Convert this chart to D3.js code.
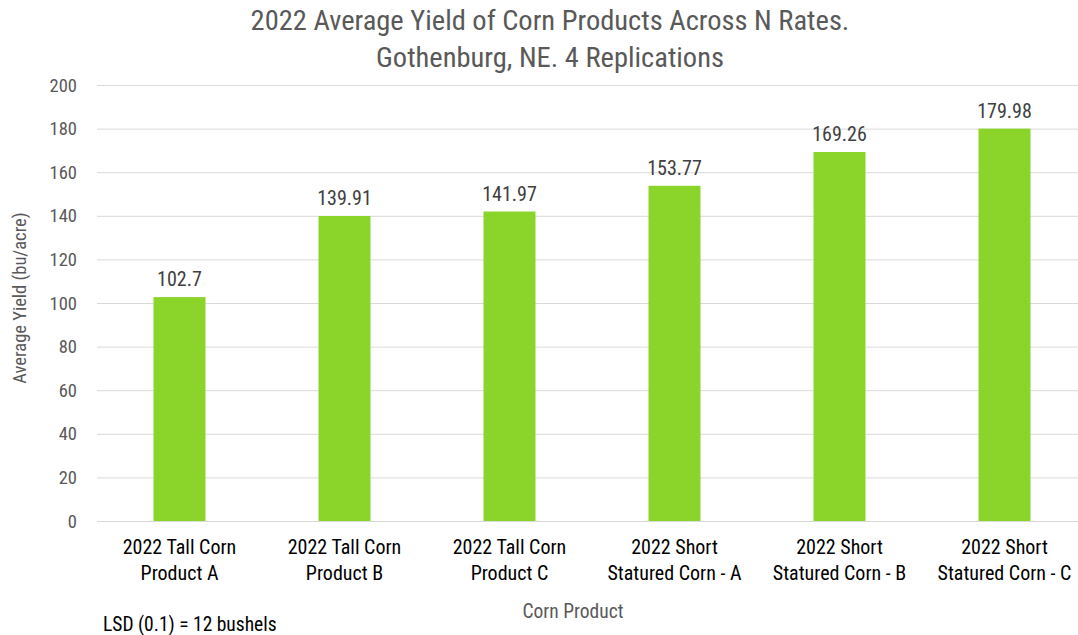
<!DOCTYPE html>
<html><head><meta charset="utf-8">
<script src="https://cdn.jsdelivr.net/npm/d3@7"></script>
<style>body{margin:0;background:#fff;} svg{display:block;}</style>
</head><body><svg id="c" width="1078" height="635"></svg>
<script>
const categories = [
  ["2022 Tall Corn","Product A"],
  ["2022 Tall Corn","Product B"],
  ["2022 Tall Corn","Product C"],
  ["2022 Short","Statured Corn - A"],
  ["2022 Short","Statured Corn - B"],
  ["2022 Short","Statured Corn - C"]
];
const yields = [102.7, 139.91, 141.97, 153.77, 169.26, 179.98];
const valueLabels = ["102.7","139.91","141.97","153.77","169.26","179.98"];
const yTicks = [0,20,40,60,80,100,120,140,160,180,200];
const titleLines = ["2022 Average Yield of Corn Products Across N Rates.","Gothenburg, NE. 4 Replications"];

(function(){
const FONT = "'Liberation Sans Narrow','Roboto Condensed',Roboto,sans-serif";
const svg = d3.select("#c");
const pLeft = 97, pRight = 1087, pTop = 85, pBottom = 521;
const keys = categories.map((d,i)=>i);
const x = d3.scaleBand().domain(keys).range([pLeft,pRight]).paddingInner(0.685).paddingOuter(0.3425);
const y = d3.scaleLinear().domain([0,200]).range([pBottom,pTop]);

svg.append("g").selectAll("line").data(yTicks).join("line")
  .attr("x1",pLeft).attr("x2",pRight)
  .attr("y1",d=>y(d)+0.5).attr("y2",d=>y(d)+0.5)
  .attr("stroke","#d9d9d9").attr("stroke-width",1);

svg.append("g").selectAll("text").data(yTicks).join("text")
  .attr("x",77).attr("y",d=>y(d)).attr("dy","0.36em")
  .attr("text-anchor","end").attr("font-family",FONT).attr("font-size",18.5)
  .attr("fill","#595959").text(d=>d);

svg.append("g").selectAll("rect").data(yields).join("rect")
  .attr("x",(d,i)=>x(i)).attr("width",x.bandwidth())
  .attr("y",d=>y(d)).attr("height",d=>y(0)-y(d))
  .attr("fill","#8bd42a");

svg.append("g").selectAll("text").data(yields).join("text")
  .attr("x",(d,i)=>x(i)+x.bandwidth()/2).attr("y",d=>y(d)-11)
  .attr("text-anchor","middle").attr("font-family",FONT).attr("font-size",20)
  .attr("fill","#404040").text((d,i)=>valueLabels[i]);

const cat = svg.append("g").selectAll("text").data(categories).join("text")
  .attr("text-anchor","middle").attr("font-family",FONT).attr("font-size",20)
  .attr("fill","#000000");
cat.each(function(d,i){
  const t = d3.select(this);
  d.forEach((line,j)=>{
    t.append("tspan").attr("x",x(i)+x.bandwidth()/2).attr("y",554+j*26).text(line);
  });
});

svg.append("g").selectAll("text").data(titleLines).join("text")
  .attr("x",550).attr("y",(d,i)=>30+i*37).attr("text-anchor","middle")
  .attr("font-family",FONT).attr("font-size",28.5).attr("fill","#595959").text(d=>d);

svg.append("text").attr("x",573).attr("y",618).attr("text-anchor","middle")
  .attr("font-family",FONT).attr("font-size",19.5).attr("fill","#595959").text("Corn Product");
svg.append("text").attr("transform","translate(26,298) rotate(-90)").attr("text-anchor","middle")
  .attr("font-family",FONT).attr("font-size",18.5).attr("fill","#595959").text("Average Yield (bu/acre)");
svg.append("text").attr("x",103).attr("y",631)
  .attr("font-family",FONT).attr("font-size",19.5).attr("fill","#000000").text("LSD (0.1) = 12 bushels");
})();
</script></body></html>
